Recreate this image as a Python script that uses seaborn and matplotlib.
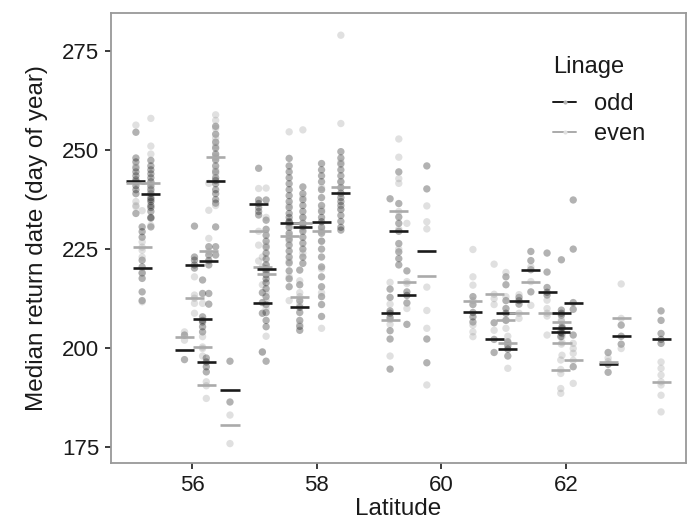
import pandas as pd
import seaborn as sns
import matplotlib.pyplot as plt
from matplotlib.lines import Line2D

# one entry per population: latitude, median lines, and the individual points
latitude = [55.10, 55.20, 55.34, 55.88, 56.04, 56.17, 56.23, 56.27, 56.38, 56.61,
            57.07, 57.13, 57.19, 57.56, 57.73, 57.78, 58.08, 58.39,
            59.18, 59.32, 59.45, 59.77,
            60.51, 60.85, 61.04, 61.07, 61.25, 61.44, 61.70, 61.93, 61.94, 61.92,
            62.12, 62.68, 62.89, 63.53]

odd_median = [242.2, 220.2, 239.0, 199.6, 221.1, 207.3, 196.4, 222.1, 242.3, 189.4,
              236.5, 211.5, 219.9, 231.7, 210.3, 230.7, 231.9, 239.1,
              208.8, 229.5, 213.3, 224.4,
              209.0, 202.2, 208.8, 199.7, 212.0, 219.8, 214.1, 208.8, 205.0, 204.0,
              211.5, 195.9, 203.0, 202.2]

even_median = [241.8, 225.5, 241.7, 202.7, 212.6, 200.4, 190.6, 224.4, 248.2, 180.5,
               229.5, 220.5, 218.7, 228.4, 213.0, 231.6, 229.5, 240.6,
               207.2, 234.5, 216.8, 218.3,
               212.0, 213.6, 207.2, 201.2, 208.8, 216.8, 208.8, 206.7, 201.4, 194.6,
               196.9, 196.6, 207.5, 191.5]

odd_values = [
    [254.5, 248, 247, 245.5, 244.5, 243.5, 242.5, 242, 241, 240, 239, 234],
    [230.6, 229.4, 228, 222.2, 220.5, 219, 217.6, 214.2, 212],
    [247.4, 246, 245, 244, 243, 242, 241, 240, 239, 238, 237.5, 237, 236, 235.5,
     234.5, 233, 232.8, 230.6],
    [203.3, 197.1],
    [230.8, 223, 222.2, 220.2, 221],
    [217.2, 213.8, 207.9, 207, 206.6, 205.4, 204.1],
    [197.5, 196.5, 195.3, 194],
    [225.6, 223.5, 222.1, 221, 213.8, 211.1],
    [256, 254, 252, 250.5, 249, 247.5, 246, 244.5, 243, 242.3, 241.5, 240, 239,
     237.5, 236.6, 230.6, 225.6, 223.5],
    [196.7, 186.4],
    [245.4, 237.4, 236.5, 235.5, 234.5, 233.6],
    [214, 211.5, 208.8, 199],
    [237.4, 232.3, 230, 228.5, 227, 225.5, 224, 222.5, 221, 220, 219.5, 218.5, 217.5,
     216.5, 215, 213, 211, 209, 207, 205.4, 196.7],
    [247.9, 246, 244.5, 243, 241.5, 240, 238.5, 237, 235.5, 234, 233, 232, 231.7,
     230.5, 229, 227.5, 226, 224.5, 223, 221.5, 219.5, 217.5, 215.5],
    [219.7, 216, 212, 210.3, 209, 207, 205.5, 204.5],
    [240.7, 239, 237.5, 236, 234.5, 233, 231.5, 230.7, 229.5, 228, 226.5, 225, 223, 221.4],
    [246.6, 245, 243.5, 242, 240, 238, 236, 234.5, 233, 231.9, 230.5, 229, 227, 225,
     223, 220.5, 218, 215.5, 213, 211, 208],
    [249.6, 248, 246.5, 245, 243.5, 242, 240.5, 239.1, 238, 237, 236, 235, 233.5, 232,
     230.5, 229.8],
    [237.7, 214.9, 212.8, 209.4, 208.8, 207.7, 204.4, 202.3, 194.7],
    [244.5, 236.5, 233.1, 231.5, 229.5, 226.4, 224.3, 222.6, 221],
    [219.5, 214.2, 213.3, 211.4, 206],
    [246, 240.2, 202.3, 196.3],
    [213, 211, 209, 207.9, 206.6],
    [206.4, 202.2, 198.9],
    [218, 216, 212, 210, 208.8, 207],
    [201.6, 200.6, 199.7, 198],
    [212.8, 212, 211.1],
    [224.4, 222.1, 219.8, 214.2],
    [224, 219.2, 215.3, 214.1, 213.4],
    [222.3, 209.6, 208.8, 208.3],
    [205.4, 205, 203.7],
    [204, 202.9],
    [237.4, 225, 211.5, 209.8, 203.3, 195.3],
    [198.9, 195.9, 193.9],
    [205.8, 203, 201],
    [209.4, 207, 203.7, 202.2, 201.2],
]

even_values = [
    [256.3, 246, 242, 237, 236, 235.7],
    [234.7, 226.8, 225.5, 224.7, 223, 218.9, 211.7],
    [258, 251, 249, 241.7, 240.5, 239.5, 231],
    [204.1, 202],
    [218, 213.4, 212.6, 211.3, 208.8],
    [211.3, 202.9, 200.3, 199.9, 198],
    [191.5, 190.5, 187.3],
    [241.6, 234.8, 227.7, 224.4, 222],
    [258.9, 257.5, 255.5, 253, 251, 248.5, 248, 245, 244, 236],
    [183.1, 175.9],
    [240.3, 229.5, 226, 222],
    [223, 220.5, 216, 199.1],
    [240.4, 233, 226, 221, 219, 218.7, 214, 212, 210, 203],
    [254.6, 236, 231, 228.4, 227, 222, 218, 212],
    [217, 214, 213, 211, 206],
    [255.1, 238, 233, 231.6, 230, 224],
    [240.5, 235, 230, 229.5, 227, 220, 214, 205],
    [279, 256.7, 247, 242, 240.6, 239, 235],
    [216.6, 211.1, 207.2, 206, 198],
    [252.8, 248.2, 242.8, 241.6, 234.5, 230, 225],
    [231.5, 216.8, 216.3, 210],
    [235.9, 231.9, 230.1, 215.4, 209.5, 205, 190.7],
    [224.9, 218, 215.9, 212, 205.8, 204.1, 202.9],
    [221.2, 213.6, 212.5, 211, 204.5],
    [219.1, 213, 207.2, 205],
    [203, 201.2, 194.9],
    [213.5, 208.8, 207.5],
    [220.5, 216.8, 210.8],
    [212.1, 210, 208.8, 208.1, 203.3],
    [207.1, 206.7, 201],
    [202.9, 201.4, 198.2],
    [197, 194.6, 193.6, 189.8, 188.6],
    [201.2, 199.9, 198.7, 196.9, 191.1],
    [197.5, 196.6],
    [216.2, 207.5, 199.9],
    [196.5, 194.9, 193.2, 191.5, 190.7, 188.1, 183.9],
]

rows = []
for lat, ov, ev in zip(latitude, odd_values, even_values):
    for v in ov:
        rows.append((lat, v, 'odd'))
    for v in ev:
        rows.append((lat, v, 'even'))
df = pd.DataFrame(rows, columns=['Latitude', 'Return', 'Linage'])

sns.set_style('ticks')
plt.rcParams['font.family'] = ['Liberation Sans', 'DejaVu Sans']
text_color = '#1a1a1a'
odd_col = '#1a1a1a'
even_col = '#aaaaaa'

fig = plt.figure(figsize=(6.92, 5.25), dpi=100)
ax = fig.add_axes([0.1604, 0.1181, 0.8309, 0.8571])

sns.scatterplot(data=df, x='Latitude', y='Return', hue='Linage',
                palette={'odd': 'black', 'even': '#999999'}, alpha=0.3, s=28,
                linewidth=0, legend=False, ax=ax, zorder=2)

half = 0.153
for lat, om, em in zip(latitude, odd_median, even_median):
    ax.hlines(om, lat - half, lat + half, color=odd_col, lw=1.9, zorder=3)
    ax.hlines(em, lat - half, lat + half, color=even_col, lw=1.9, zorder=3)

ax.set_xlim(54.70, 63.93)
ax.set_ylim(171, 284.6)
ax.set_xticks([56, 58, 60, 62])
ax.set_yticks([175, 200, 225, 250, 275])
ax.set_xlabel('Latitude', fontsize=17.5, color=text_color, labelpad=2)
ax.set_ylabel('Median return date (day of year)', fontsize=17.5, color=text_color, labelpad=10)
ax.tick_params(axis='both', labelsize=16, colors=text_color, length=4.3, width=1.2, pad=4)
for side in ['left', 'right', 'top', 'bottom']:
    ax.spines[side].set_visible(True)
    ax.spines[side].set_color('#999999')
    ax.spines[side].set_linewidth(1.3)

handles = [
    Line2D([0], [0], color=odd_col, lw=1.4, marker='o', markersize=3,
           markerfacecolor='#b3b3b3', markeredgecolor='none'),
    Line2D([0], [0], color=even_col, lw=1.4, marker='o', markersize=3,
           markerfacecolor='#e0e0e0', markeredgecolor='none'),
]
leg = ax.legend(handles, ['odd', 'even'], title='Linage', loc='upper left',
                bbox_to_anchor=(0.752, 0.925), frameon=False, fontsize=17,
                title_fontsize=17, handlelength=1.0, labelspacing=0.33,
                handletextpad=0.75, borderaxespad=0)
leg._legend_box.align = 'left'
leg._legend_box.sep = 11
for t in leg.get_texts():
    t.set_color(text_color)
leg.get_title().set_color(text_color)

fig.savefig('out.png', dpi=100)
